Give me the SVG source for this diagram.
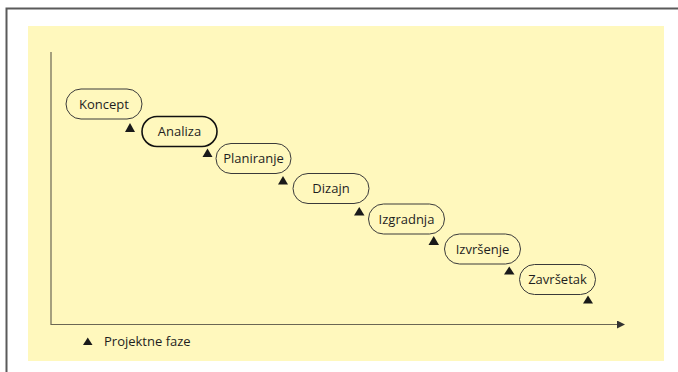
<svg xmlns="http://www.w3.org/2000/svg" width="678" height="372" viewBox="0 0 678 372">
  <defs>
    <style>
      .frame { fill: none; stroke: #5a5a5a; stroke-width: 2; }
      .panel { fill: #fff8bd; }
      .axis { fill: none; stroke: #6b6754; stroke-width: 1.2; }
      .phase rect { fill: #fff8bd; stroke: #3a3a3a; stroke-width: 1; }
      .phase.active rect { stroke: #111; stroke-width: 1.6; }
      .phase text { font-family: "Open Sans", "Noto Sans", sans-serif; font-size: 13px; fill: #1e1e1e; text-anchor: middle; }
      .mark { fill: #1a1a1a; }
      .legend { font-family: "Open Sans", "Noto Sans", sans-serif; font-size: 13px; fill: #1e1e1e; }
    </style>
    <marker id="arrow" viewBox="0 0 8 8" refX="7" refY="4" markerWidth="8" markerHeight="8" markerUnits="userSpaceOnUse" orient="auto">
      <path d="M0,0 L8,4 L0,8 Z" fill="#333"/>
    </marker>
  </defs>

  <!-- outer frame -->
  <path class="frame" d="M6.5,372 V8.5 H678"/>
  <!-- background panel -->
  <rect class="panel" x="28" y="26" width="636" height="335"/>

  <!-- axes -->
  <g id="connectors">
    <path class="axis" d="M51,52 V324.5 H624" marker-end="url(#arrow)"/>
  </g>

  <!-- phase nodes -->
  <g id="koncept" class="phase">
    <rect x="66" y="89" width="76" height="30" rx="15"/>
    <text x="104" y="108.5">Koncept</text>
  </g>
  <g id="analiza" class="phase active">
    <rect x="142" y="116.5" width="75" height="30" rx="15"/>
    <text x="179.5" y="136">Analiza</text>
  </g>
  <g id="planiranje" class="phase">
    <rect x="216" y="143.5" width="75" height="30" rx="15"/>
    <text x="253.5" y="163">Planiranje</text>
  </g>
  <g id="dizajn" class="phase">
    <rect x="293" y="173.5" width="76" height="30" rx="15"/>
    <text x="331" y="193">Dizajn</text>
  </g>
  <g id="izgradnja" class="phase">
    <rect x="368.5" y="204" width="76" height="30" rx="15"/>
    <text x="406.5" y="223.5">Izgradnja</text>
  </g>
  <g id="izvrsenje" class="phase">
    <rect x="444.5" y="234" width="76" height="30" rx="15"/>
    <text x="482.5" y="253.5">Izvršenje</text>
  </g>
  <g id="zavrsetak" class="phase">
    <rect x="519.5" y="264.5" width="76" height="30" rx="15"/>
    <text x="557.5" y="284">Završetak</text>
  </g>

  <!-- phase markers -->
  <g id="markers">
    <polygon class="mark" points="125,132 135,132 130,123"/>
    <polygon class="mark" points="202.5,157 212.5,157 207.5,148.5"/>
    <polygon class="mark" points="278,184.5 288,184.5 283,176"/>
    <polygon class="mark" points="354,215.5 364.5,215.5 359.25,207"/>
    <polygon class="mark" points="428.5,245 439,245 433.75,236"/>
    <polygon class="mark" points="504,274.5 514.5,274.5 509.25,266.5"/>
    <polygon class="mark" points="583,303.5 593,303.5 588,295.5"/>
  </g>

  <!-- legend -->
  <g id="legend">
    <polygon class="mark" points="83,345 92.5,345 87.75,337.5"/>
    <text class="legend" x="104" y="345.5">Projektne faze</text>
  </g>
</svg>
